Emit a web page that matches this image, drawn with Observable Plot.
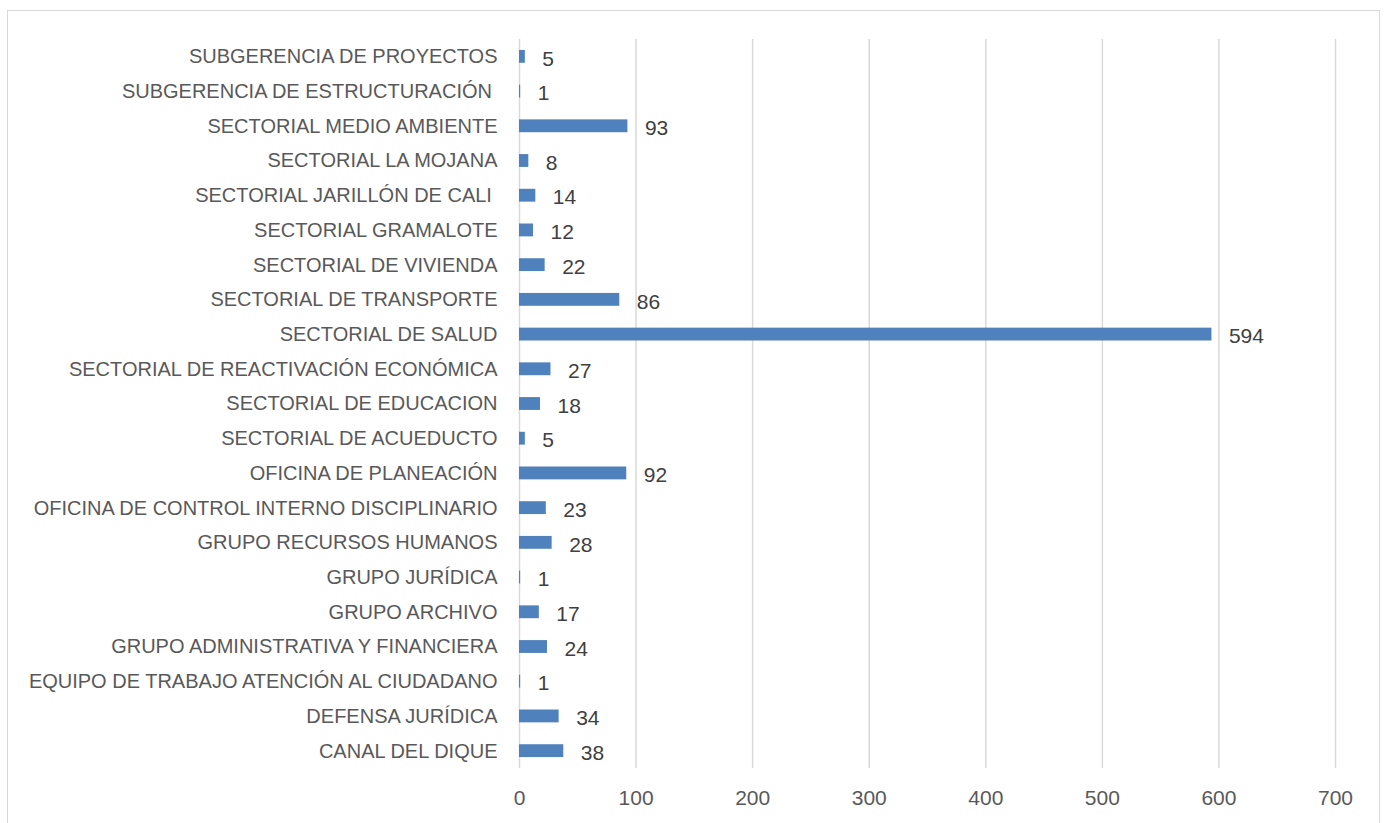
<!DOCTYPE html>
<html>
<head>
<meta charset="utf-8">
<script src="https://cdn.jsdelivr.net/npm/d3@7"></script>
<script src="https://cdn.jsdelivr.net/npm/@observablehq/plot@0.6"></script>
<style>
  html, body { margin: 0; padding: 0; background: #fff; }
  #wrap { position: relative; width: 1386px; height: 823px; overflow: hidden; }
  #frame { position: absolute; left: 7px; top: 10px; width: 1373px; height: 830px; border: 1px solid #d9d9d9; box-sizing: border-box; }
  #chart { position: absolute; left: 0; top: 0; }
</style>
</head>
<body>
<div id="wrap"><div id="frame"></div><div id="chart"></div></div>
<script>
const categories = [
  "SUBGERENCIA DE PROYECTOS",
  "SUBGERENCIA DE ESTRUCTURACIÓN\u00a0",
  "SECTORIAL MEDIO AMBIENTE",
  "SECTORIAL LA MOJANA",
  "SECTORIAL JARILLÓN DE CALI\u00a0",
  "SECTORIAL GRAMALOTE",
  "SECTORIAL DE VIVIENDA",
  "SECTORIAL DE TRANSPORTE",
  "SECTORIAL DE SALUD",
  "SECTORIAL DE REACTIVACIÓN ECONÓMICA",
  "SECTORIAL DE EDUCACION",
  "SECTORIAL DE ACUEDUCTO",
  "OFICINA DE PLANEACIÓN",
  "OFICINA DE CONTROL INTERNO DISCIPLINARIO",
  "GRUPO RECURSOS HUMANOS",
  "GRUPO JURÍDICA",
  "GRUPO ARCHIVO",
  "GRUPO ADMINISTRATIVA Y FINANCIERA",
  "EQUIPO DE TRABAJO ATENCIÓN AL CIUDADANO",
  "DEFENSA JURÍDICA",
  "CANAL DEL DIQUE"
];
const values = [5, 1, 93, 8, 14, 12, 22, 86, 594, 27, 18, 5, 92, 23, 28, 1, 17, 24, 1, 34, 38];
const xTicks = [0, 100, 200, 300, 400, 500, 600, 700];

const data = categories.map((c, i) => ({category: c, value: values[i]}));
const FONT = "'Liberation Sans', Arial, sans-serif";

const chart = Plot.plot({
  width: 1386,
  height: 823,
  marginLeft: 519,
  marginRight: 51,
  marginTop: 39,
  marginBottom: 55,
  style: {fontFamily: FONT, fontSize: "20px", color: "#595959", background: "transparent"},
  x: {domain: [0, 700], ticks: xTicks, label: null},
  y: {domain: categories, paddingInner: 0.63, paddingOuter: 0.315, round: false, label: null},
  marks: [
    Plot.gridX(xTicks, {stroke: "#d9d9d9", strokeOpacity: 1, strokeWidth: 1.5}),
    Plot.barX(data, {y: "category", x: "value", fill: "#4f81bd"}),
    Plot.text(data, {y: "category", x: "value", text: d => String(d.value), textAnchor: "start", dx: 17, dy: 2, fill: "#404040", fontSize: 21}),
    Plot.axisX({ticks: xTicks, tickSize: 0, tickPadding: 22, fill: "#595959", fontSize: 21, label: null}),
    Plot.axisY({tickSize: 0, tickPadding: 22, fill: "#595959", fontSize: 20, label: null})
  ]
});
document.getElementById("chart").appendChild(chart);
</script>
</body>
</html>
